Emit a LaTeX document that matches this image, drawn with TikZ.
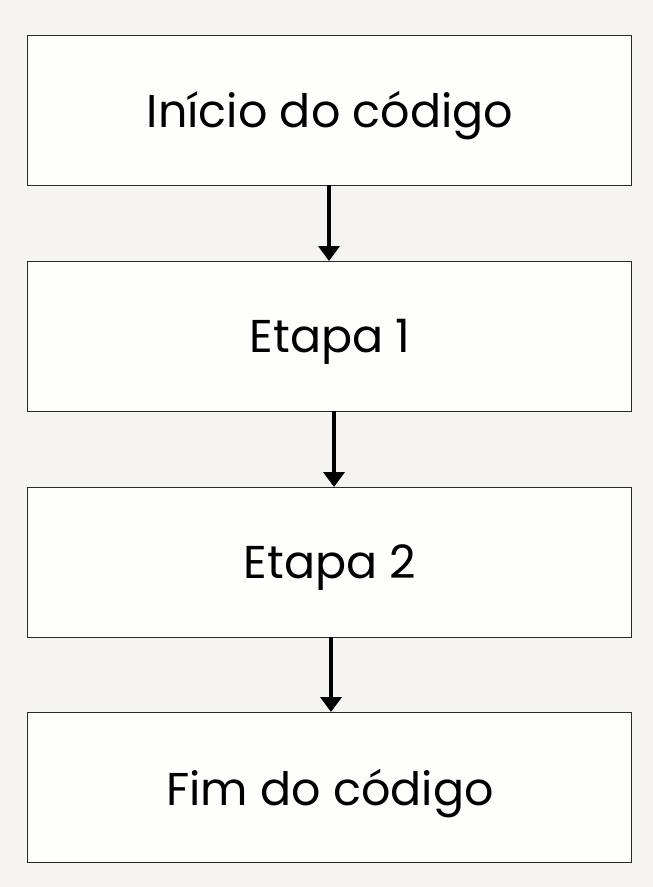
\documentclass[tikz,border=0pt]{standalone}
\usepackage{fontspec}
\setmainfont{Poppins}
\usetikzlibrary{arrows.meta}
\definecolor{bgcol}{HTML}{F5F4F0}
\definecolor{boxfill}{HTML}{FEFEFC}
\definecolor{boxline}{HTML}{2A2A2A}
\begin{document}
\begin{tikzpicture}[x=1pt,y=-1pt,
  flowbox/.style={draw=boxline,line width=0.9pt,fill=boxfill,minimum width=604pt,minimum height=150pt,inner sep=0pt,anchor=north west},
  flowtext/.style={anchor=base,inner sep=0pt,text=black,font=\fontsize{46}{54}\selectfont},
  flowarrow/.style={line width=4pt,-{Triangle[width=21pt,length=15pt]}}]
\fill[bgcol] (0,0) rectangle (653,887);
\useasboundingbox (0,0) rectangle (653,887);
\node[flowbox] (b1) at (27,35) {};
\node[flowtext] (t1) at (330,127) {Início do código};
\node[flowbox] (b2) at (27,261) {};
\node[flowtext] (t2) at (330,352) {Etapa 1};
\node[flowbox] (b3) at (27,487) {};
\node[flowtext] (t3) at (330,578) {Etapa 2};
\node[flowbox] (b4) at (27,712) {};
\node[flowtext] (t4) at (330,805) {Fim do código};
\coordinate (c1) at (329,185);
\coordinate (c2) at (334,411);
\coordinate (c3) at (331,637);
\draw[flowarrow] (c1) -- (c1 |- b2.north);
\draw[flowarrow] (c2) -- (c2 |- b3.north);
\draw[flowarrow] (c3) -- (c3 |- b4.north);
\end{tikzpicture}
\end{document}
